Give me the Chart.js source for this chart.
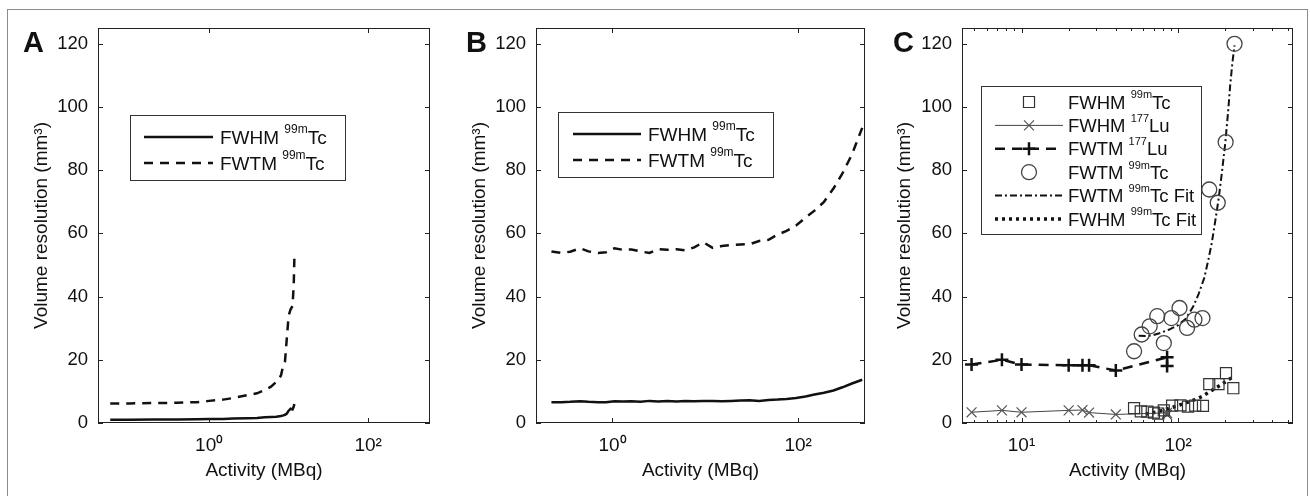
<!DOCTYPE html>
<html lang="en">
<head>
<meta charset="UTF-8">
<title>Volume resolution vs activity</title>
<script src="https://cdn.jsdelivr.net/npm/chart.js"></script>
<style>
body {
  margin: 0;
  background: #fff;
  width: 1310px;
  height: 496px;
  overflow: hidden;
  position: relative;
}
#frame {
  position: absolute;
  left: 7px; top: 9px;
  width: 1299px; height: 600px;
  border: 1px solid #8c8c8c;
}
.panel { position: absolute; top: 0; height: 496px; }
canvas { display: block; }
</style>
</head>
<body>
<div id="frame"></div>
<div class="panel" style="left:10px;width:428px"><canvas id="chartA" width="428" height="496"></canvas></div>
<div class="panel" style="left:440px;width:430px"><canvas id="chartB" width="430" height="496"></canvas></div>
<div class="panel" style="left:872px;width:430px"><canvas id="chartC" width="430" height="496"></canvas></div>

<script>
// ---- data ----
const yTicks = [0, 20, 40, 60, 80, 100, 120];

// panel A
const aActivity = [0.057, 0.1, 0.2, 0.4, 0.7, 1.0, 1.5, 2.0, 3.0, 4.0, 5.0, 6.0, 7.0, 8.0, 8.6, 9.0, 9.5, 10.0, 10.6, 11.2, 11.6, 11.8];
const aFwhm = [1.0, 1.0, 1.1, 1.1, 1.2, 1.3, 1.3, 1.4, 1.5, 1.6, 1.8, 1.9, 2.0, 2.2, 2.4, 2.6, 3.0, 3.9, 4.5, 4.3, 5.2, 6.0];
const aFwtm = [6.2, 6.2, 6.3, 6.4, 6.6, 7.0, 7.4, 7.9, 8.8, 9.4, 10.4, 11.5, 13.0, 15.0, 18.5, 19.5, 27.0, 34.0, 36.0, 37.0, 44.0, 52.0];
const aXTicks = [1, 100];

// panel B
const bActivity = [0.22, 0.28, 0.35, 0.45, 0.55, 0.7, 0.85, 1.05, 1.3, 1.6, 2.0, 2.5, 3.1, 3.9, 4.9, 6.1, 7.6, 9.5, 12, 15, 19, 24, 30, 38, 48, 60, 75, 95, 120, 150, 190, 240, 300, 380, 490];
const bFwhm = [6.6, 6.6, 6.7, 6.9, 6.7, 6.6, 6.6, 6.9, 6.8, 6.9, 6.7, 7.0, 6.8, 7.0, 6.8, 7.0, 6.9, 7.0, 7.0, 6.9, 7.0, 7.1, 7.2, 7.0, 7.3, 7.4, 7.6, 7.9, 8.4, 9.0, 9.6, 10.3, 11.3, 12.5, 13.7];
const bFwtm = [54.3, 53.8, 54.2, 55.3, 54.3, 53.8, 54.0, 55.3, 54.8, 54.9, 54.3, 53.8, 55.0, 54.8, 55.0, 54.6, 55.6, 57.2, 55.4, 56.0, 56.3, 56.5, 56.6, 57.6, 58.0, 59.6, 60.8, 62.5, 65.0, 67.2, 70.0, 74.2, 79.0, 85.0, 93.4];
const bXTicks = [1, 100];

// panel C
const cLuActivity = [4.8, 7.5, 10, 20, 24.5, 27, 40, 85, 85];
const cFwhmLu = [3.4, 4.0, 3.4, 4.0, 4.1, 3.3, 2.7, 3.2, 2.6];
const cFwtmLu = [18.5, 20.0, 18.5, 18.3, 18.3, 18.3, 16.6, 20.8, 18.0];
const cTcHmActivity = [52.3, 57.7, 63.6, 70, 74.6, 81, 91.5, 103.5, 115.6, 128.5, 144, 158, 181, 202, 225];
const cFwhmTc = [4.7, 3.7, 3.6, 3.3, 3.0, 4.0, 5.5, 5.6, 5.2, 5.5, 5.4, 12.3, 12.3, 15.8, 11.0];
const cTcTmActivity = [52.3, 58.5, 65.8, 73.5, 81, 90.6, 102, 114, 127, 143, 158, 179, 201, 229];
const cFwtmTc = [22.7, 28.0, 30.6, 33.8, 25.3, 33.2, 36.4, 30.1, 32.7, 33.2, 73.9, 69.7, 88.9, 120];
const cFitTmActivity = [56, 62, 68, 75, 87, 100, 111, 125, 135, 147, 156, 164, 172, 181, 190, 200, 208, 215, 222, 229];
const cFitTm = [27.6, 27.5, 27.7, 28.3, 29.5, 31.0, 32.8, 36.9, 40.8, 46.0, 51.7, 57.0, 63.5, 70.7, 79.0, 88.7, 98.0, 107.0, 114.0, 119.5];
const cFitHmActivity = [62, 75, 87, 101, 115, 128, 142, 160, 181, 200, 225];
const cFitHm = [2.8, 3.6, 4.6, 5.6, 6.6, 7.4, 8.4, 10.0, 11.6, 13.0, 14.7];
const cXTicks = [10, 100];
const cXMinor = [5, 6, 7, 8, 9, 20, 30, 40, 50, 60, 70, 80, 90, 200, 300, 400, 500];

// ---- helpers ----
const FONT = '"Liberation Sans", Arial, sans-serif';
Chart.defaults.font.family = FONT;
Chart.defaults.color = '#111';

const pts = (xs, ys) => xs.map((x, i) => ({x: x, y: ys[i]}));
const SUP = {'0': '\u2070', '1': '\u00b9', '2': '\u00b2', '-': '\u207b'};
const pow10 = v => '10' + String(Math.round(Math.log10(v))).split('').map(c => SUP[c]).join('');

function marker(ctx, style, x, y, r) {
  ctx.beginPath();
  if (style === 'circle') {
    ctx.arc(x, y, r, 0, Math.PI * 2);
  } else if (style === 'rect') {
    const s = r * Math.SQRT1_2;
    ctx.rect(x - s, y - s, 2 * s, 2 * s);
  } else if (style === 'cross') {
    ctx.moveTo(x - r, y); ctx.lineTo(x + r, y);
    ctx.moveTo(x, y - r); ctx.lineTo(x, y + r);
  } else if (style === 'crossRot') {
    const s = r * Math.SQRT1_2;
    ctx.moveTo(x - s, y - s); ctx.lineTo(x + s, y + s);
    ctx.moveTo(x - s, y + s); ctx.lineTo(x + s, y - s);
  }
  ctx.stroke();
}

// text like 'FWHM ^{99m}Tc'
function supText(ctx, text, x, y, size) {
  const parts = text.split(/\^\{|\}/);
  let cx = x;
  parts.forEach((p, i) => {
    const sup = i % 2 === 1;
    ctx.font = (sup ? Math.round(size * 0.62) : size) + 'px ' + FONT;
    ctx.fillText(p, cx, sup ? y - size * 0.56 : y);
    cx += ctx.measureText(p).width;
  });
}

// MATLAB style box, inward ticks and panel letter
const boxPlugin = {
  id: 'boxPlugin',
  afterDatasetsDraw(chart, args, o) {
    const {ctx, chartArea: a} = chart;
    const x = chart.scales.x, y = chart.scales.y;
    ctx.save();
    ctx.strokeStyle = '#222';
    ctx.lineWidth = 1;
    ctx.setLineDash([]);
    ctx.strokeRect(a.left + 0.5, a.top + 0.5, a.right - a.left - 1, a.bottom - a.top - 1);
    ctx.beginPath();
    y.ticks.forEach(t => {
      const py = Math.round(y.getPixelForValue(t.value)) + 0.5;
      ctx.moveTo(a.left, py); ctx.lineTo(a.left + 5, py);
      ctx.moveTo(a.right, py); ctx.lineTo(a.right - 5, py);
    });
    const xt = (v, len) => {
      const px = Math.round(x.getPixelForValue(v)) + 0.5;
      ctx.moveTo(px, a.bottom); ctx.lineTo(px, a.bottom - len);
      ctx.moveTo(px, a.top); ctx.lineTo(px, a.top + len);
    };
    x.ticks.forEach(t => xt(t.value, 5));
    (o.minor || []).forEach(v => xt(v, 3));
    ctx.stroke();
    ctx.fillStyle = '#111';
    ctx.font = 'bold 29px ' + FONT;
    ctx.textBaseline = 'alphabetic';
    ctx.fillText(o.letter, a.left + o.letterDx, 52);
    ctx.restore();
  }
};

// legend box drawn like the original
const legendPlugin = {
  id: 'boxLegend',
  afterDraw(chart, args, o) {
    const {ctx, chartArea: a} = chart;
    const L = a.left + o.left, T = a.top + o.top;
    ctx.save();
    ctx.fillStyle = '#fff';
    ctx.fillRect(L, T, o.width, o.height);
    ctx.strokeStyle = '#333';
    ctx.lineWidth = 1;
    ctx.setLineDash([]);
    ctx.strokeRect(L + 0.5, T + 0.5, o.width, o.height);
    chart.data.datasets.forEach((ds, i) => {
      const cy = T + o.firstRow + i * o.rowH;
      const x0 = L + o.sample[0], x1 = L + o.sample[1];
      if (ds.showLine) {
        ctx.beginPath();
        ctx.setLineDash(ds.borderDash || []);
        ctx.lineWidth = ds.borderWidth;
        ctx.strokeStyle = ds.borderColor;
        ctx.moveTo(x0, cy); ctx.lineTo(x1, cy);
        ctx.stroke();
      }
      if (ds.pointRadius > 0) {
        ctx.setLineDash([]);
        ctx.lineWidth = ds.pointBorderWidth;
        ctx.strokeStyle = ds.pointBorderColor;
        marker(ctx, ds.pointStyle, (x0 + x1) / 2, cy, ds.pointRadius);
      }
      ctx.fillStyle = '#111';
      ctx.textBaseline = 'alphabetic';
      supText(ctx, ds.label, L + o.textX, cy + o.fontSize * 0.36, o.fontSize);
    });
    ctx.restore();
  }
};

function makeChart(id, datasets, xMin, xMax, xTicks, yAxisWidth, rightPad, titlePad, legend, box) {
  return new Chart(document.getElementById(id), {
    type: 'scatter',
    data: {datasets: datasets},
    options: {
      responsive: false,
      animation: false,
      devicePixelRatio: 1,
      layout: {padding: {top: 28, right: rightPad, left: 0, bottom: 0}},
      scales: {
        x: {
          type: 'logarithmic',
          min: xMin, max: xMax,
          afterBuildTicks: s => { s.ticks = xTicks.map(v => ({value: v})); },
          afterFit: s => { s.height = 73; },
          grid: {display: false, drawTicks: false},
          border: {display: false},
          ticks: {callback: v => pow10(v), padding: 11, font: {size: 19}, color: '#111', maxRotation: 0},
          title: {display: true, text: 'Activity (MBq)', font: {size: 19}, color: '#111', padding: {top: 0, bottom: 14}}
        },
        y: {
          type: 'linear',
          min: 0, max: 125,
          afterBuildTicks: s => { s.ticks = yTicks.map(v => ({value: v})); },
          afterFit: s => { s.width = yAxisWidth; },
          grid: {display: false, drawTicks: false},
          border: {display: false},
          ticks: {padding: 10, font: {size: 18.5}, color: '#111'},
          title: {display: true, text: 'Volume resolution (mm\u00b3)', font: {size: 19}, color: '#111', padding: {top: titlePad, bottom: 0}}
        }
      },
      plugins: {
        legend: {display: false},
        tooltip: {enabled: false},
        boxLegend: legend,
        boxPlugin: box
      }
    },
    plugins: [boxPlugin, legendPlugin]
  });
}

const lineDs = (label, xs, ys, dash, width) => ({
  label: label, data: pts(xs, ys), showLine: true, borderColor: '#111', borderWidth: width,
  borderDash: dash, pointRadius: 0, pointBorderWidth: 0, tension: 0, borderCapStyle: 'butt'
});

makeChart('chartA', [
  lineDs('FWHM ^{99m}Tc', aActivity, aFwhm, [], 2.5),
  lineDs('FWTM ^{99m}Tc', aActivity, aFwtm, [9, 7], 2.5)
], 0.04, 600, aXTicks, 88, 8, 20.6,
  {left: 32, top: 87, width: 215, height: 65, firstRow: 22, rowH: 26, sample: [14, 83], textX: 90, fontSize: 19},
  {letter: 'A', letterDx: -75});

makeChart('chartB', [
  lineDs('FWHM ^{99m}Tc', bActivity, bFwhm, [], 2.5),
  lineDs('FWTM ^{99m}Tc', bActivity, bFwtm, [9, 7], 2.5)
], 0.15, 525, bXTicks, 96, 5, 28.6,
  {left: 22, top: 84, width: 215, height: 65, firstRow: 22, rowH: 26, sample: [15, 83], textX: 90, fontSize: 19},
  {letter: 'B', letterDx: -70});

makeChart('chartC', [
  {label: 'FWHM ^{99m}Tc', data: pts(cTcHmActivity, cFwhmTc), showLine: false,
   pointStyle: 'rect', pointRadius: 7.8, pointBorderColor: '#333', pointBorderWidth: 1.2, pointBackgroundColor: 'rgba(0,0,0,0)'},
  {label: 'FWHM ^{177}Lu', data: pts(cLuActivity, cFwhmLu), showLine: true, borderColor: '#444', borderWidth: 1,
   borderDash: [], pointStyle: 'crossRot', pointRadius: 7, pointBorderColor: '#555', pointBorderWidth: 1.2, tension: 0},
  {label: 'FWTM ^{177}Lu', data: pts(cLuActivity, cFwtmLu), showLine: true, borderColor: '#111', borderWidth: 2.5,
   borderDash: [10, 7], pointStyle: 'cross', pointRadius: 6.5, pointBorderColor: '#111', pointBorderWidth: 2.5, tension: 0},
  {label: 'FWTM ^{99m}Tc', data: pts(cTcTmActivity, cFwtmTc), showLine: false,
   pointStyle: 'circle', pointRadius: 7.5, pointBorderColor: '#444', pointBorderWidth: 1.3, pointBackgroundColor: 'rgba(0,0,0,0)'},
  lineDs('FWTM ^{99m}Tc Fit', cFitTmActivity, cFitTm, [7, 3, 2, 3], 2),
  lineDs('FWHM ^{99m}Tc Fit', cFitHmActivity, cFitHm, [3, 4], 3.5)
], 4.17, 541, cXTicks, 90, 7, 21.6,
  {left: 19, top: 58, width: 220, height: 148, firstRow: 16, rowH: 23.4, sample: [14, 82], textX: 87, fontSize: 18.5},
  {letter: 'C', letterDx: -69, minor: cXMinor});
</script>
</body>
</html>
